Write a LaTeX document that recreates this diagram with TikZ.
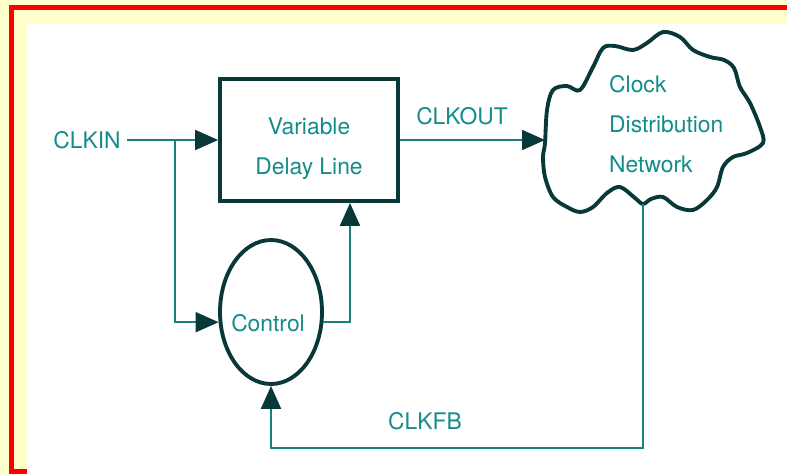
\documentclass[tikz,border=0pt]{standalone}
\usepackage{fontspec}
\setmainfont{TeX Gyre Heros}
\usetikzlibrary{arrows.meta,shapes.geometric,calc}

\definecolor{pageyellow}{RGB}{255,255,204}
\definecolor{framered}{RGB}{255,0,0}
\definecolor{inkteal}{RGB}{20,140,140}
\definecolor{wireteal}{RGB}{25,128,128}
\definecolor{edgedark}{RGB}{8,56,56}

\begin{document}
\begin{tikzpicture}[
    x=0.02cm, y=-0.02cm,
    lbl/.style={text=inkteal, font=\fontsize{13pt}{22.6pt}\selectfont},
    delaybox/.style={draw=edgedark, line width=2.2pt, fill=white, minimum width=3.56cm, minimum height=2.44cm},
    ctrl/.style={draw=edgedark, ellipse, line width=2.2pt, fill=white, inner sep=0pt, minimum width=2.04cm, minimum height=2.88cm},
    sig/.style={draw=wireteal, line width=1.1pt, -{Triangle[length=0.46cm, width=0.4cm, color=edgedark]}}
]

    % Page: yellow band, red frame, white inset
    \useasboundingbox (0,0) rectangle (787,473);
    \fill[pageyellow] (0,0) rectangle (787,473);
    \draw[framered, line width=0.1cm] (11.5,8) rectangle (830,471);
    \fill[white] (27,24) rectangle (830,520);

    % Clock distribution network (cloud outline)
    \draw[edgedark, line width=2.2pt, fill=white] plot[smooth cycle, tension=0.55] coordinates {
        (545,143) (547,110) (553,90) (567,86) (580,90) (593,67) (603,48)
        (615,46) (633,50) (647,43) (663,32) (680,37) (693,50) (710,57)
        (724,60) (734,68) (740,87) (750,103) (760,127) (763,143) (747,153)
        (733,157) (723,167) (717,187) (707,200) (693,210) (677,207) (663,197)
        (651,199) (643,204) (635,198) (620,187) (607,193) (593,207) (580,212)
        (567,207) (553,197) (545,177) (543,157)
    };
    \coordinate (cloudin) at (545,140);
    \coordinate (cloudout) at (643,204);
    \node[lbl, align=left, anchor=west] (cloudtxt) at (603,124) {Clock\\Distribution\\Network};

    % Blocks
    \node[delaybox] (delay) at (309,140) {};
    \node[lbl, align=center] (delaytxt) at (309,149) {Variable\\Delay Line};
    \node[ctrl] (ctrl) at (271,312) {};
    \node[lbl] (ctrltxt) at (268,323) {Control};

    % Signal names
    \node[lbl] (clkin) at (87,140) {CLKIN};
    \node[lbl] (clkout) at (462,116) {CLKOUT};
    \node[lbl] (clkfb) at (425,421) {CLKFB};

    % Connections
    \coordinate (split) at (175,140);
    \draw[sig] (clkin.east) -- (delay.west);
    \draw[sig] (split) |- (ctrl.191);
    \draw[sig] (ctrl.-11) -| ($(delay.south)+(41,0)$);
    \draw[sig] (delay.east) -- (cloudin);
    \draw[sig] (cloudout) -- ++(0,244) -| (ctrl.south);

\end{tikzpicture}
\end{document}
